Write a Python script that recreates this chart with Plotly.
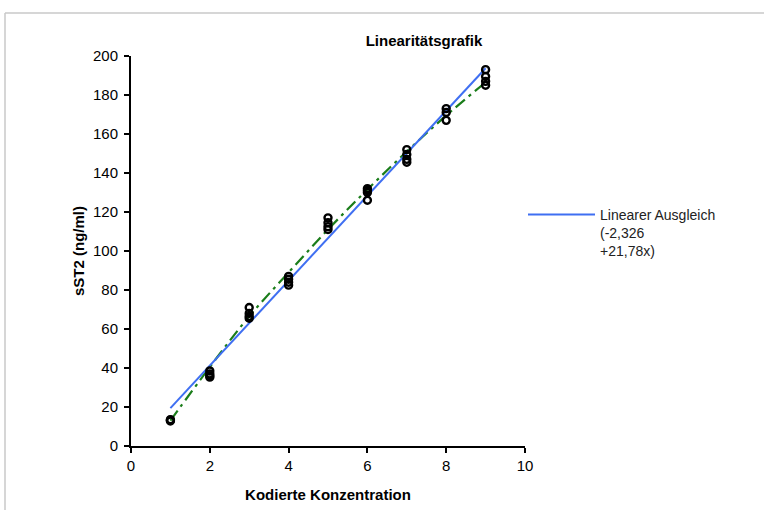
import plotly.graph_objects as go

# Measured data (coded concentration levels and replicate sST2 values)
conc_x = [1, 1, 1,
          2, 2, 2, 2,
          3, 3, 3, 3,
          4, 4, 4, 4,
          5, 5, 5, 5,
          6, 6, 6, 6,
          7, 7, 7, 7,
          8, 8, 8,
          9, 9, 9, 9]
sst2_y = [12.8, 13.2, 13.5,
          38.5, 37.0, 36.0, 35.3,
          71.0, 68.0, 66.5, 65.5,
          87.0, 85.5, 84.0, 82.5,
          117.0, 114.5, 112.5, 111.0,
          132.0, 131.0, 130.0, 126.0,
          152.0, 149.5, 147.0, 145.5,
          173.0, 171.0, 167.0,
          193.0, 189.5, 187.0, 185.0]

# Linear fit (-2,326 + 21,78x), drawn between the end levels
fit_x = [1, 9]
fit_intercept = -2.326
fit_slope = 21.78
fit_y = [fit_intercept + fit_slope * v for v in fit_x]

# Non-linear (polynomial) fit curve
poly_x = [1, 2, 3, 4, 5, 6, 7, 8, 9]
poly_y = [13.0, 40.5, 66.5, 89.0, 111.0, 131.5, 151.0, 169.5, 186.5]

x_ticks = [0, 2, 4, 6, 8, 10]
y_ticks = [0, 20, 40, 60, 80, 100, 120, 140, 160, 180, 200]

FONT = "Liberation Sans, Arial, sans-serif"

fig = go.Figure()
fig.add_trace(go.Scatter(
    x=poly_x, y=poly_y, mode="lines", line_shape="spline",
    line=dict(color="#1a7d1a", width=2.2, dash="12px,5px,3px,5px"),
    showlegend=False, hoverinfo="skip"))
fig.add_trace(go.Scatter(
    x=fit_x, y=fit_y, mode="lines",
    line=dict(color="#3f6ff2", width=2),
    name="Linearer Ausgleich<br>(-2,326<br>+21,78x)"))
fig.add_trace(go.Scatter(
    x=conc_x, y=sst2_y, mode="markers",
    marker=dict(symbol="circle-open", size=7, color="black",
                line=dict(width=2.4, color="black")),
    showlegend=False))

L, R, T, B = 131, 764 - 525, 56, 510 - 446
W, H = 764 - L - R, 510 - T - B

def px(xp):
    return (xp - L) / W

def py(yp):
    return (510 - B - yp) / H

fig.update_layout(
    width=764, height=510,
    margin=dict(l=L, r=R, t=T, b=B, autoexpand=False),
    paper_bgcolor="white", plot_bgcolor="white",
    font=dict(family=FONT, size=15, color="black"),
    title=dict(text="<b>Linearitätsgrafik</b>", xref="container", x=424 / 764,
               xanchor="center", yref="container",
               y=1 - 41 / 510, yanchor="middle",
               font=dict(family=FONT, size=15, color="black")),
    legend=dict(x=px(523), y=py(199), xanchor="left", yanchor="top",
                font=dict(family=FONT, size=14, color="#222222"),
                bgcolor="rgba(0,0,0,0)", itemwidth=67, valign="top"),
    xaxis=dict(range=[0, 10], tickvals=x_ticks, showgrid=False, zeroline=False,
               showline=True, linecolor="black", linewidth=2, automargin=False,
               ticks="outside", ticklen=5, tickwidth=2, tickcolor="black",
               tickfont=dict(family=FONT, size=15),
               title=dict(text="<b>Kodierte Konzentration</b>", standoff=16,
                          font=dict(family=FONT, size=15))),
    yaxis=dict(range=[0, 200], tickvals=y_ticks, showgrid=False, zeroline=False,
               showline=True, linecolor="black", linewidth=2, automargin=False,
               ticks="outside", ticklen=5, tickwidth=2, tickcolor="black",
               ticklabelstandoff=3,
               tickfont=dict(family=FONT, size=15),
               title=dict(text="<b>sST2 (ng/ml)</b>", standoff=5,
                          font=dict(family=FONT, size=15))),
    shapes=[
        dict(type="line", xref="paper", yref="paper",
             x0=px(5), x1=px(764), y0=py(13), y1=py(13),
             line=dict(color="#c8c8c8", width=1.5)),
        dict(type="line", xref="paper", yref="paper",
             x0=px(5), x1=px(5), y0=py(13), y1=py(510),
             line=dict(color="#c8c8c8", width=1.5)),
    ],
)

fig.write_html("out.html")
